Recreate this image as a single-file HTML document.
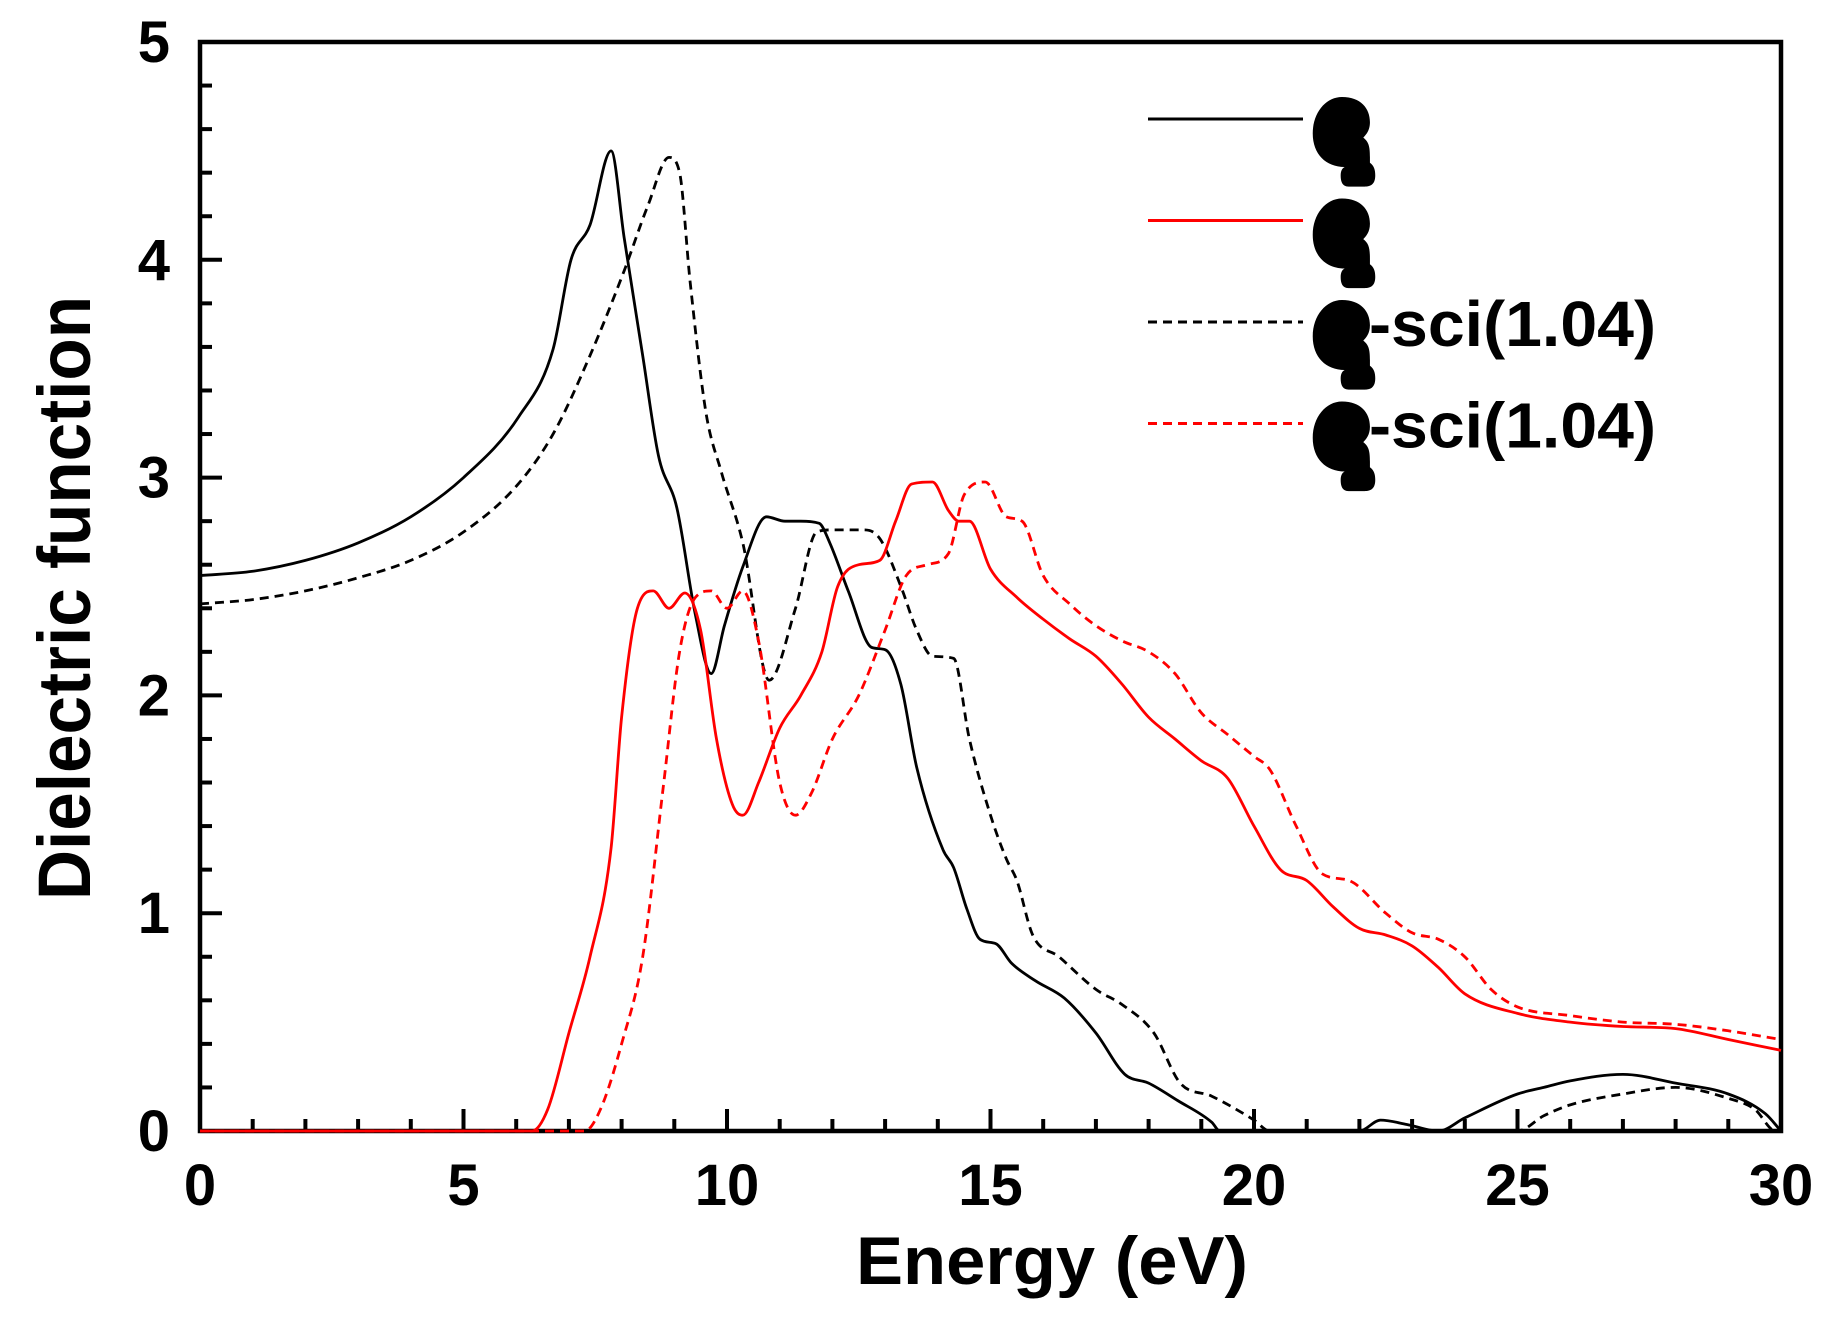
<!DOCTYPE html>
<html><head><meta charset="utf-8"><style>
html,body{margin:0;padding:0;background:#fff;}
svg{display:block;}
text{font-family:"Liberation Sans",sans-serif;font-weight:bold;fill:#000;}
</style></head><body>
<svg id="chart" width="1848" height="1317" viewBox="0 0 1848 1317" xmlns="http://www.w3.org/2000/svg">
<g id="axes"></g>
<g id="series"></g>
<g id="legend"></g>
<text x="0" y="0" font-size="74" text-anchor="middle" textLength="604" lengthAdjust="spacingAndGlyphs" transform="translate(90,598) rotate(-90)">Dielectric function</text>
<text x="1052" y="1284" font-size="68" text-anchor="middle" textLength="392" lengthAdjust="spacingAndGlyphs">Energy (eV)</text>
</svg>
<script>
const xTicks=[0,5,10,15,20,25,30];
const yTicks=[0,1,2,3,4,5];
const blackSolidX=[0,1,2,3,4,5,6.05,6.7,7.04,7.4,7.8,8.05,8.4,8.7,9.05,9.4,9.7,9.95,10.3,10.75,11.1,11.4,11.75,11.95,12.3,12.75,13.0,13.3,13.6,14.1,14.3,14.55,14.8,15.1,15.4,15.85,16.4,17.0,17.55,18.0,18.55,19.2,19.35,22.0,22.4,22.9,23.5,24,25,25.5,26,27,28,29,29.7,30];
const blackSolidY=[2.55,2.57,2.62,2.70,2.82,3.0,3.28,3.59,4.0,4.16,4.5,4.1,3.56,3.1,2.86,2.37,2.1,2.32,2.59,2.82,2.8,2.8,2.79,2.7,2.48,2.22,2.21,2.05,1.67,1.29,1.21,1.02,0.88,0.86,0.77,0.69,0.61,0.45,0.26,0.22,0.14,0.04,0,0,0.05,0.03,0,0.06,0.17,0.2,0.23,0.26,0.22,0.17,0.08,0];
const blackDashX=[0,1,2,3,4,5,6,6.7,7.4,8.05,8.5,8.9,9.1,9.3,9.6,9.9,10.3,10.8,11.3,11.7,12.0,12.6,12.9,13.3,13.6,13.9,14.3,14.6,15.0,15.3,15.5,15.8,16.3,17,17.5,18.1,18.6,19.2,20.0,20.3,25,25.5,26,27,28,29,29.5,29.9,30];
const blackDashY=[2.42,2.44,2.48,2.54,2.62,2.75,2.96,3.2,3.56,3.95,4.25,4.47,4.4,3.9,3.3,3.02,2.7,2.07,2.4,2.75,2.76,2.76,2.72,2.5,2.3,2.18,2.17,1.8,1.45,1.25,1.15,0.9,0.8,0.65,0.58,0.45,0.22,0.16,0.05,0,0,0.07,0.12,0.17,0.2,0.15,0.1,0,0];
const redSolidX=[0,6.3,6.6,7.0,7.4,7.8,8.0,8.3,8.6,8.9,9.2,9.5,9.8,10.1,10.3,10.6,11.0,11.4,11.8,12.1,12.5,12.9,13.2,13.5,13.9,14.2,14.4,14.6,15.0,15.5,16.0,16.5,17.0,17.5,18.0,18.5,19.0,19.5,20.0,20.5,21.0,21.5,22.0,22.5,23.0,23.5,24.0,25,26,27,28,29,30];
const redSolidY=[0,0,0.1,0.45,0.8,1.3,1.9,2.4,2.48,2.4,2.47,2.3,1.8,1.5,1.45,1.6,1.85,2.0,2.2,2.5,2.6,2.62,2.8,2.97,2.98,2.85,2.8,2.8,2.58,2.45,2.35,2.26,2.18,2.05,1.9,1.8,1.7,1.62,1.4,1.2,1.15,1.03,0.93,0.9,0.85,0.75,0.63,0.54,0.5,0.48,0.47,0.42,0.37];
const redDashX=[0,7.3,7.6,8.0,8.4,8.8,9.1,9.4,9.7,10.0,10.3,10.6,11.0,11.3,11.6,12.0,12.5,13.0,13.4,13.8,14.2,14.5,14.9,15.3,15.6,16.0,16.5,17.0,17.5,18.0,18.5,19.0,19.5,20.0,20.3,20.8,21.3,21.8,22.5,23.0,23.5,24,24.5,25,26,27,28,29,30];
const redDashY=[0,0,0.1,0.4,0.8,1.6,2.2,2.45,2.48,2.4,2.48,2.25,1.6,1.45,1.55,1.8,2.0,2.3,2.55,2.6,2.65,2.92,2.98,2.82,2.8,2.55,2.42,2.32,2.25,2.2,2.1,1.92,1.82,1.72,1.66,1.4,1.18,1.15,1.0,0.91,0.88,0.8,0.65,0.57,0.53,0.5,0.49,0.46,0.42];

const L=200,R=1781,T=42,B=1131;
const sx=v=>L+(v-0)/30*(R-L);
const sy=v=>B-(v-0)/5*(B-T);
const NS="http://www.w3.org/2000/svg";
function mk(tag,attrs,parent){const e=document.createElementNS(NS,tag);for(const k in attrs)e.setAttribute(k,attrs[k]);parent.appendChild(e);return e;}
const axes=document.getElementById('axes');
const series=document.getElementById('series');
const legend=document.getElementById('legend');

for(let i=0;i<=30;i++){
  const big=i%5===0;
  const t=mk('line',{x1:sx(i),x2:sx(i),y1:B,y2:B-(big?22:12),stroke:'#000','stroke-width':4},axes);
  
  
}
for(let i=0;i<=25;i++){
  const v=i*0.2;const big=i%5===0;
  const t=mk('line',{x1:L,x2:L+(big?22:12),y1:sy(v),y2:sy(v),stroke:'#000','stroke-width':4},axes);
  
  
}
const frame=mk('rect',{x:L,y:T,width:R-L,height:B-T,fill:'none',stroke:'#000','stroke-width':4.5},axes);


xTicks.forEach(v=>{
  const t=mk('text',{x:sx(v),y:1205,'font-size':58,'text-anchor':'middle'},axes);
  t.textContent=v;
  
  
});
yTicks.forEach(v=>{
  const t=mk('text',{x:170,y:sy(v)+20,'font-size':58,'text-anchor':'end'},axes);
  t.textContent=v;
  
  
});

function smoothPath(xs,ys){
  const p=xs.map((x,i)=>[sx(x),sy(ys[i])]);
  const n=p.length,d=[],m=[];
  for(let i=0;i<n-1;i++)d.push((p[i+1][1]-p[i][1])/(p[i+1][0]-p[i][0]));
  m[0]=d[0];m[n-1]=d[n-2];
  for(let i=1;i<n-1;i++)m[i]=(d[i-1]*d[i]<=0)?0:(d[i-1]+d[i])/2;
  for(let i=0;i<n-1;i++){
    if(d[i]===0){m[i]=0;m[i+1]=0;continue;}
    const a=m[i]/d[i],b=m[i+1]/d[i],s=a*a+b*b;
    if(s>9){const t=3/Math.sqrt(s);m[i]=t*a*d[i];m[i+1]=t*b*d[i];}
  }
  let out='M'+p[0][0].toFixed(1)+','+p[0][1].toFixed(1);
  for(let i=0;i<n-1;i++){
    const h=(p[i+1][0]-p[i][0])/3;
    out+=' C'+(p[i][0]+h).toFixed(1)+','+(p[i][1]+m[i]*h).toFixed(1)+' '+(p[i+1][0]-h).toFixed(1)+','+(p[i+1][1]-m[i+1]*h).toFixed(1)+' '+p[i+1][0].toFixed(1)+','+p[i+1][1].toFixed(1);
  }
  return out;
}
function drawLine(xs,ys,color,dash,name){
  const p=mk('path',{d:smoothPath(xs,ys),fill:'none',stroke:color,'stroke-width':2.8,'stroke-linejoin':'round'},series);
  if(dash)p.setAttribute('stroke-dasharray','9,6');
  
  
}
drawLine(blackSolidX,blackSolidY,'#000',false,'series-black-solid');
drawLine(blackDashX,blackDashY,'#000',true,'series-black-dashed');
drawLine(redSolidX,redSolidY,'#f00',false,'series-red-solid');
drawLine(redDashX,redDashY,'#f00',true,'series-red-dashed');

const legItems=[['#000',false,''],['#f00',false,''],['#000',true,'-sci(1.04)'],['#f00',true,'-sci(1.04)']];
legItems.forEach((it,i)=>{
  const y=119+i*101.5;
  const g=mk('g',{},legend);
  
  
  const ln=mk('line',{x1:1148,x2:1303,y1:y,y2:y,stroke:it[0],'stroke-width':3},g);
  if(it[1])ln.setAttribute('stroke-dasharray','9,6');
  
  
  const sym=mk('path',{transform:`translate(1342,${y-22}) scale(1.33,1.4)`,d:'M0,0 c14,0 21,8 21,18 c0,6 -3,9 -5,11 c4,3 5,6 5,14 l0,4 c3,2 4,5 4,9 c0,6 -3,8 -8,8 l-12,0 c-5,0 -6,-4 -6,-8 c0,-3 1,-5 3,-6 c-14,0 -24,-9 -24,-24 c0,-15 10,-26 22,-26 z',fill:'#000'},g);
  
  
  if(it[2]){
    const t=mk('text',{x:1369,y:y+24,'font-size':64,textLength:287,lengthAdjust:'spacingAndGlyphs'},g);
    t.textContent=it[2];
    
    
  }
});
</script>
</body></html>
